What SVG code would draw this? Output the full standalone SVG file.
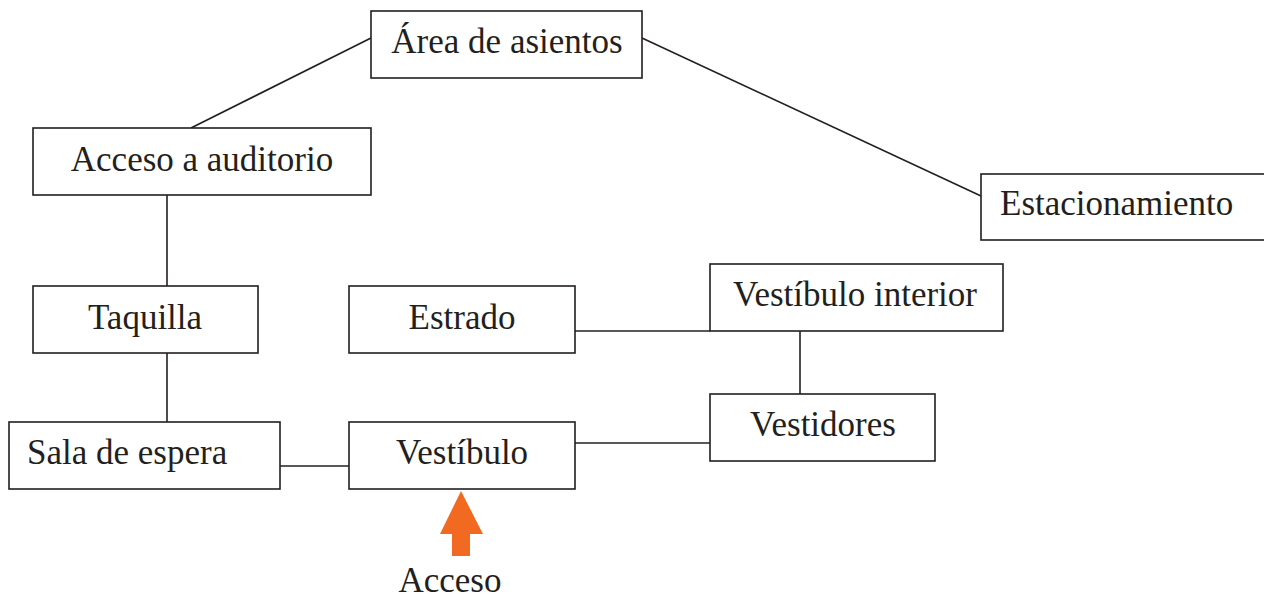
<svg xmlns="http://www.w3.org/2000/svg" width="1264" height="600" viewBox="0 0 1264 600">
<style>
.box{fill:#fff;stroke:#231f20;stroke-width:1.6}
.lbl{font-family:"Liberation Serif","Times New Roman",serif;font-size:35px;fill:#231f20}
.c{text-anchor:middle}
.ln{stroke:#231f20;stroke-width:1.6;fill:none}
</style>
<rect width="1264" height="600" fill="#fff"/>
<g id="connectors">
<line class="ln" x1="371" y1="38" x2="191" y2="128"/>
<line class="ln" x1="642" y1="38" x2="981" y2="196"/>
<line class="ln" x1="167" y1="195" x2="167" y2="286"/>
<line class="ln" x1="167" y1="353" x2="167" y2="422"/>
<line class="ln" x1="280" y1="466" x2="349" y2="466"/>
<line class="ln" x1="575" y1="443" x2="710" y2="443"/>
<line class="ln" x1="575" y1="331" x2="710" y2="331"/>
<line class="ln" x1="800" y1="331" x2="800" y2="394"/>
</g>
<g id="area-asientos"><rect class="box" x="371" y="11" width="271" height="67"/><text class="lbl c" x="507" y="53">Área de asientos</text></g>
<g id="acceso-auditorio"><rect class="box" x="33" y="128" width="338" height="67"/><text class="lbl c" x="202" y="171">Acceso a auditorio</text></g>
<g id="estacionamiento"><rect class="box" x="981" y="174" width="290" height="66"/><text class="lbl" x="1000" y="215">Estacionamiento</text></g>
<g id="taquilla"><rect class="box" x="33" y="286" width="225" height="67"/><text class="lbl c" x="145" y="329">Taquilla</text></g>
<g id="estrado"><rect class="box" x="349" y="286" width="226" height="67"/><text class="lbl c" x="462" y="329">Estrado</text></g>
<g id="vestibulo-interior"><rect class="box" x="710" y="264" width="293" height="67"/><text class="lbl c" x="855" y="306">Vestíbulo interior</text></g>
<g id="vestidores"><rect class="box" x="710" y="394" width="225" height="67"/><text class="lbl c" x="823" y="436">Vestidores</text></g>
<g id="sala-espera"><rect class="box" x="9" y="422" width="271" height="67"/><text class="lbl" x="27" y="464">Sala de espera</text></g>
<g id="vestibulo"><rect class="box" x="349" y="422" width="226" height="67"/><text class="lbl c" x="462" y="464">Vestíbulo</text></g>
<g id="acceso">
<polygon points="461,491 483,534 470,534 470,556 452,556 452,534 440,534" fill="#f26a22"/>
<text class="lbl c" x="450" y="592">Acceso</text>
</g>
</svg>
